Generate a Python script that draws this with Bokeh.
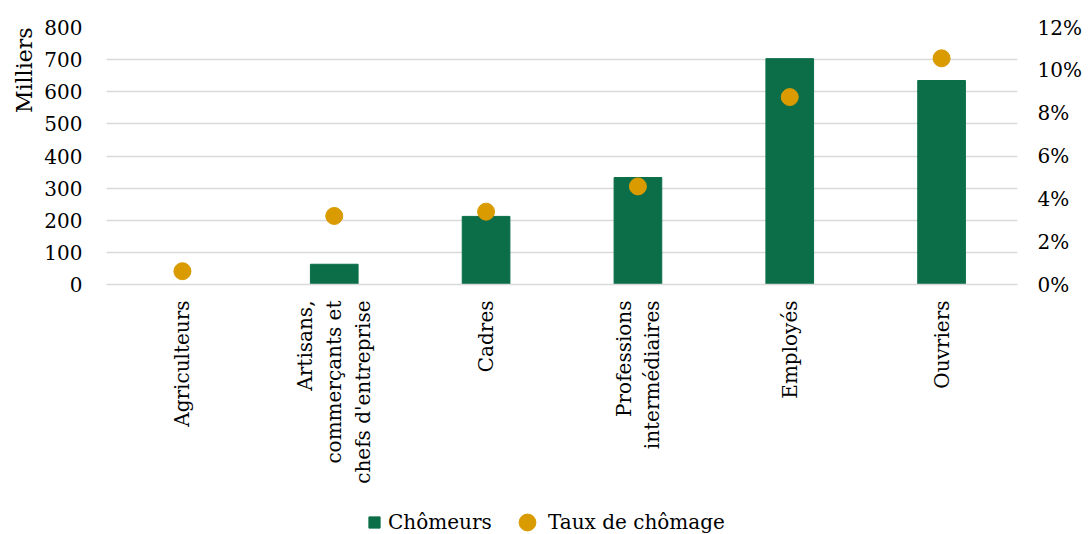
import math
from bokeh.plotting import figure
from bokeh.layouts import column
from bokeh.models import FactorRange, Range1d, LinearAxis, Legend, LegendItem, NumeralTickFormatter, FixedTicker, Title
from bokeh.embed import file_html
from bokeh.resources import INLINE

categories = ["Agriculteurs", "Artisans,\ncommerçants et\nchefs d'entreprise", "Cadres",
              "Professions\nintermédiaires", "Employés", "Ouvriers"]
chomeurs = [0, 63, 212, 333, 703, 635]          # milliers
taux = [0.0062, 0.032, 0.034, 0.0458, 0.0875, 0.1056]  # taux de chômage
left_ticks = [0, 100, 200, 300, 400, 500, 600, 700, 800]
right_ticks = [0, 0.02, 0.04, 0.06, 0.08, 0.10, 0.12]
series_names = ["Chômeurs", "Taux de chômage"]

GREEN = "#0b6e48"
ORANGE = "#d99b00"
GRID = "#d9d9d9"
FONT = "DejaVu Serif"
FS = "20px"

p = figure(x_range=FactorRange(*categories), y_range=Range1d(0, 800),
           frame_width=911, frame_height=257, output_backend="svg", toolbar_location=None,
           min_border_left=106, min_border_right=72, min_border_top=27, min_border_bottom=260)
p.outline_line_color = None
p.extra_y_ranges = {"rate": Range1d(0, 0.12)}

bars = p.vbar(x=categories, top=chomeurs, width=0.314, fill_color=GREEN, line_color=GREEN)
dots = p.scatter(x=categories, y=taux, y_range_name="rate", size=17, fill_color=ORANGE, line_color=ORANGE)

p.xgrid.grid_line_color = None
p.ygrid.grid_line_color = GRID
p.ygrid.grid_line_width = 1.5

ya = p.yaxis[0]
ya.ticker = FixedTicker(ticks=left_ticks)
ya.axis_line_color = None
ya.major_tick_line_color = None
ya.minor_tick_line_color = None
ya.major_tick_out = 0
ya.major_label_standoff = 24
ya.major_label_text_font = FONT
ya.major_label_text_font_size = FS
ya.major_label_text_color = "#000000"

ra = LinearAxis(y_range_name="rate", ticker=FixedTicker(ticks=right_ticks),
                formatter=NumeralTickFormatter(format="0%"))
ra.axis_line_color = None
ra.major_tick_line_color = None
ra.minor_tick_line_color = None
ra.major_tick_out = 0
ra.major_label_standoff = 20
ra.major_label_text_font = FONT
ra.major_label_text_font_size = FS
ra.major_label_text_color = "#000000"
p.add_layout(ra, "right")

xa = p.xaxis[0]
xa.axis_line_color = GRID
xa.axis_line_width = 1.5
xa.major_tick_line_color = None
xa.major_tick_out = 0
xa.major_label_standoff = 16
xa.major_label_orientation = math.pi / 2
xa.major_label_text_font = FONT
xa.major_label_text_font_size = FS
xa.major_label_text_color = "#000000"

p.add_layout(Title(text="Milliers", align="right", offset=0, text_font=FONT, text_font_size="22px",
                   text_font_style="normal", text_color="#000000"), "left")

# separate legend strip placed just under the chart
lg = figure(width=1089, height=50, output_backend="svg", toolbar_location=None,
            x_range=Range1d(0, 1), y_range=Range1d(0, 1), min_border=0,
            margin=(-47, 0, 0, 0))
lg.axis.visible = False
lg.grid.grid_line_color = None
lg.outline_line_color = None
lg.background_fill_alpha = 0
lg.border_fill_alpha = 0
sq = lg.scatter(x=[0.5], y=[float("nan")], marker="square", size=11, fill_color=GREEN, line_color=GREEN)
ci = lg.scatter(x=[0.5], y=[float("nan")], marker="circle", size=17, fill_color=ORANGE, line_color=ORANGE)

common = dict(orientation="horizontal", label_text_font=FONT, label_text_font_size=FS,
              label_text_color="#000000", border_line_color=None, background_fill_alpha=0,
              padding=0, margin=0)
legend_a = Legend(items=[LegendItem(label=series_names[0], renderers=[sq])],
                  location=(254, 11), glyph_width=28, glyph_height=28, label_standoff=0, **common)
legend_b = Legend(items=[LegendItem(label=series_names[1], renderers=[ci])],
                  location=(400, 4), glyph_width=42, glyph_height=42, label_standoff=-8, **common)
lg.add_layout(legend_a)
lg.add_layout(legend_b)

open("out.html", "w").write(file_html(column(p, lg, spacing=0), INLINE))
